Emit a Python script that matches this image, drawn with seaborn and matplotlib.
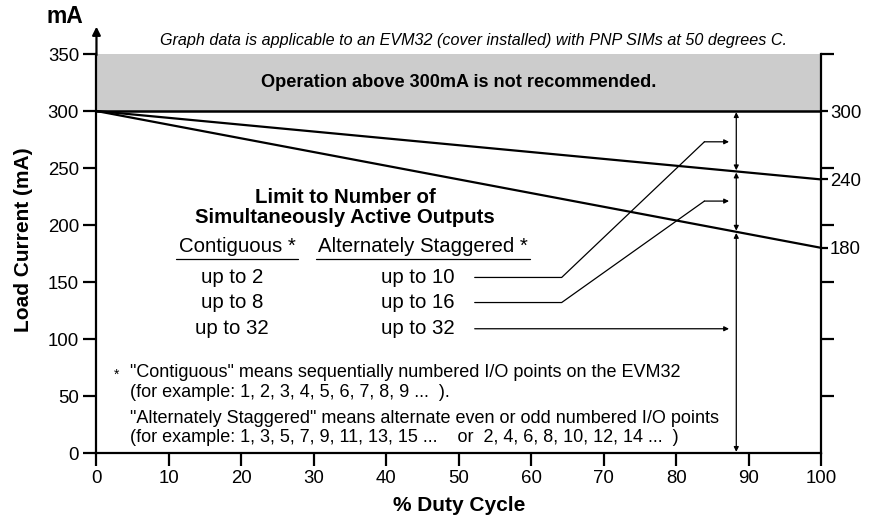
import pandas as pd
import matplotlib.pyplot as plt
import seaborn as sns

# derating data
duty = [0, 100]
limit_upper = [300, 240]
limit_lower = [300, 180]
right_labels = [300, 240, 180]
y_ticks = [0, 50, 100, 150, 200, 250, 300, 350]
x_ticks = [0, 10, 20, 30, 40, 50, 60, 70, 80, 90, 100]

contiguous = ["up to 2", "up to 8", "up to 32"]
staggered = ["up to 10", "up to 16", "up to 32"]
row_y = [154, 132, 109]
bend_y = [273, 221, None]

sns.set_theme(style="white")
plt.rcParams["font.family"] = ["Liberation Sans", "DejaVu Sans"]
plt.rcParams["text.color"] = "black"
plt.rcParams["axes.labelcolor"] = "black"
plt.rcParams["xtick.color"] = "black"
plt.rcParams["ytick.color"] = "black"

fig = plt.figure(figsize=(8.73, 5.21), dpi=100)
ax = fig.add_axes([0.1105, 0.1305, 0.83, 0.8205])

df = pd.DataFrame({"duty": duty * 2,
                   "mA": limit_upper + limit_lower,
                   "curve": ["upper"] * 2 + ["lower"] * 2})
sns.lineplot(data=df, x="duty", y="mA", units="curve", estimator=None,
             color="black", lw=1.6, ax=ax, legend=False)

ax.set_xlim(0, 100)
ax.set_ylim(0, 375)

# not recommended zone
ax.axhspan(300, 350, xmin=0, xmax=1, color="#cccccc", zorder=0, lw=0)
ax.axhline(300, color="black", lw=1.8)
ax.text(50, 325, "Operation above 300mA is not recommended.", ha="center", va="center",
        fontsize=13.1, fontweight="bold")
ax.text(52, 362, "Graph data is applicable to an EVM32 (cover installed) with PNP SIMs at 50 degrees C.",
        ha="center", va="center", fontsize=11.6, style="italic")

# spines
ax.spines["top"].set_visible(False)
for s in ["left", "bottom", "right"]:
    ax.spines[s].set_color("black")
    ax.spines[s].set_linewidth(1.6)
ax.spines["right"].set_bounds(0, 350)
ax.spines["left"].set_bounds(0, 350)
ax.annotate("", xy=(0, 374), xytext=(0, 349), xycoords="data",
            arrowprops=dict(arrowstyle="-|>", color="black", lw=1.6, mutation_scale=12,
                            shrinkA=0, shrinkB=0), annotation_clip=False)

ax.set_xticks(x_ticks)
ax.set_yticks(y_ticks)
ax.tick_params(axis="both", direction="out", length=9.5, width=1.6, color="black",
               labelsize=13.4, labelcolor="black", left=True, bottom=True, pad=3)

# right side axis
rax = ax.twinx()
rax.set_ylim(ax.get_ylim())
for s in ["top", "left", "bottom", "right"]:
    rax.spines[s].set_visible(False)
rax.set_yticks([50, 100, 150, 200, 250, 350])
rax.set_yticklabels([])
rax.set_yticks(right_labels, minor=True)
rax.set_yticklabels([str(v) for v in right_labels], minor=True)
rax.tick_params(axis="y", which="both", direction="out", length=9.5, width=1.6, color="black",
                labelsize=13.4, labelcolor="black", right=True, pad=1.5)
rax.tick_params(axis="y", which="minor", length=5)
rax.grid(False)

ax.set_xlabel("% Duty Cycle", fontsize=15, fontweight="bold", labelpad=6)
ax.set_ylabel("Load Current (mA)", fontsize=15, fontweight="bold")
ax.yaxis.set_label_coords(-0.088, 0.5)
fig.text(0.074, 0.969, "mA", fontsize=16.5, fontweight="bold", ha="center", va="center")

# table of limits
ax.text(34.3, 224, "Limit to Number of", ha="center", va="center", fontsize=14.7, fontweight="bold")
ax.text(34.3, 207, "Simultaneously Active Outputs", ha="center", va="center", fontsize=14.7,
        fontweight="bold")
ax.text(19.4, 181, "Contiguous *", ha="center", va="center", fontsize=14.7)
ax.text(45, 181, "Alternately Staggered *", ha="center", va="center", fontsize=14.7)
ax.plot([11, 27.8], [170, 170], color="black", lw=0.9)
ax.plot([30.3, 59.8], [170, 170], color="black", lw=0.9)

for c, s, yv, by in zip(contiguous, staggered, row_y, bend_y):
    ax.text(18.7, yv, c, ha="center", va="center", fontsize=14.7)
    ax.text(44.4, yv, s, ha="center", va="center", fontsize=14.7)
    if by is None:
        start = (52.2, yv)
    else:
        ax.plot([52.2, 64.2, 83.9], [yv, yv, by], color="black", lw=0.9)
        start = (83.9, by)
    ax.annotate("", xy=(87.3, start[1]), xytext=start,
                arrowprops=dict(arrowstyle="-|>", color="black", lw=0.9, mutation_scale=7,
                                shrinkA=0, shrinkB=0))

# double arrows at 88.3 % duty
xa = 88.3
ya = 300 - 0.6 * xa
yb = 300 - 1.2 * xa
for top, bot in [(300, ya), (ya, yb), (yb, 0)]:
    ax.annotate("", xy=(xa, bot + 1), xytext=(xa, top - 1),
                arrowprops=dict(arrowstyle="<|-|>", color="black", lw=0.9, mutation_scale=7,
                                shrinkA=0, shrinkB=0))

# footnote
ax.text(2.8, 69, "*", ha="center", va="center", fontsize=10)
ax.text(4.6, 71, '"Contiguous" means sequentially numbered I/O points on the EVM32',
        ha="left", va="center", fontsize=13)
ax.text(4.6, 53.5, "(for example: 1, 2, 3, 4, 5, 6, 7, 8, 9 ...  ).", ha="left", va="center",
        fontsize=13)
ax.text(4.6, 30.7, '"Alternately Staggered" means alternate even or odd numbered I/O points',
        ha="left", va="center", fontsize=13)
ax.text(4.6, 14, "(for example: 1, 3, 5, 7, 9, 11, 13, 15 ...    or  2, 4, 6, 8, 10, 12, 14 ...  )",
        ha="left", va="center", fontsize=13)

plt.savefig("out.png", dpi=100)
